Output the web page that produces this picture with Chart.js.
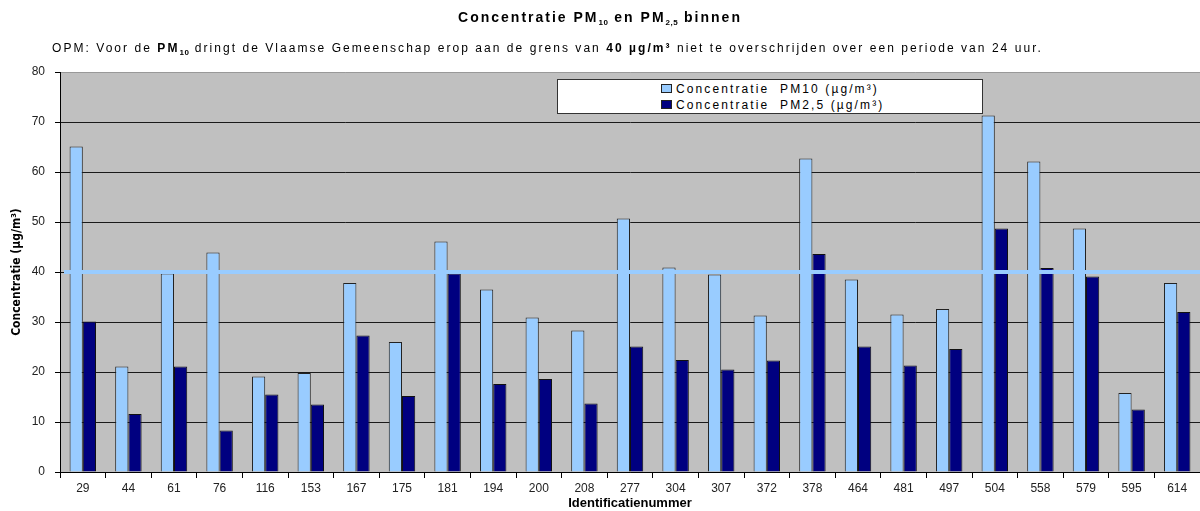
<!DOCTYPE html>
<html>
<head>
<meta charset="utf-8">
<script src="https://cdn.jsdelivr.net/npm/chart.js@4.4.0/dist/chart.umd.min.js"></script>
<style>
  body { margin: 0; background: #fff; }
  #wrap { position: relative; width: 1200px; height: 511px; font-family: "Liberation Sans", Arial, sans-serif; }
  #chart { position: absolute; left: 0; top: 0; }
  #title { position: absolute; top: 9px; left: 0; width: 1200px; text-align: center; font-weight: bold; font-size: 14px; letter-spacing: 2px; color: #000; }
  #subtitle { position: absolute; top: 41px; left: 52px; white-space: nowrap; font-size: 12px; letter-spacing: 2.05px; color: #000; }
  sub { font-size: 8px; vertical-align: -3px; line-height: 0; letter-spacing: 0.5px; }
  #legend { position: absolute; left: 557px; top: 79px; width: 424px; height: 33px; background: #fff; border: 1px solid #333; font-size: 12px; letter-spacing: 2.1px; }
  .item { position: absolute; left: 103px; white-space: pre; }
  .box { display: inline-block; width: 9px; height: 7px; border: 1px solid #222; margin-right: 4px; vertical-align: 0px; }
</style>
</head>
<body>
<div id="wrap">
  <canvas id="chart" width="1200" height="511"></canvas>
  <div id="title">Concentratie PM<sub>10</sub> en PM<sub>2,5</sub> binnen</div>
  <div id="subtitle">OPM: Voor de <b>PM<sub>10</sub></b> dringt de Vlaamse Gemeenschap erop aan de grens van <b>40 µg/m³</b> niet te overschrijden over een periode van 24 uur.</div>
  <div id="legend"></div>
</div>
<script>
// Identification numbers (x axis)
var categories = ["29", "44", "61", "76", "116", "153", "167", "175", "181", "194", "200", "208", "277",
  "304", "307", "372", "378", "464", "481", "497", "504", "558", "579", "595", "614"];

// Measured values (µg/m³)
var pm10Values = [65.1, 21.1, 39.7, 43.9, 19.1, 19.8, 37.8, 26.0, 46.1, 36.5, 30.9, 28.3, 50.7,
  40.9, 39.5, 31.3, 62.7, 38.5, 31.5, 32.6, 71.3, 62.1, 48.7, 15.8, 37.8];
var pm25Values = [30.1, 11.6, 21.1, 8.3, 15.5, 13.5, 27.3, 15.2, 39.7, 17.6, 18.6, 13.7, 25.1,
  22.4, 20.5, 22.3, 43.6, 25.1, 21.3, 24.6, 48.7, 40.8, 39.1, 12.5, 32.0];

var seriesLabels = ["Concentratie  PM10 (µg/m³)", "Concentratie  PM2,5 (µg/m³)"];
var seriesColors = ["#99CCFF", "#000080"];

// Limit of the Flemish Community
var limitValue = 40;

// Gray plot background
var plotBackground = {
  id: "plotBackground",
  beforeDraw: function (chart) {
    var a = chart.chartArea;
    var ctx = chart.ctx;
    ctx.save();
    ctx.fillStyle = "#C0C0C0";
    ctx.fillRect(a.left, a.top, a.right - a.left, a.bottom - a.top);
    ctx.restore();
  },
};

// Thick light blue line at the limit, drawn over the bars
var limitLine = {
  id: "limitLine",
  afterDatasetsDraw: function (chart) {
    var a = chart.chartArea;
    var y = chart.scales.y.getPixelForValue(limitValue);
    var ctx = chart.ctx;
    ctx.save();
    ctx.strokeStyle = "#99CCFF";
    ctx.lineWidth = 4;
    ctx.beginPath();
    ctx.moveTo(a.left + 4, y);
    ctx.lineTo(a.right, y);
    ctx.stroke();
    ctx.restore();
  },
};

var ctx = document.getElementById("chart").getContext("2d");
var myChart = new Chart(ctx, {
  type: "bar",
  data: {
    labels: categories,
    datasets: [
      {
        label: seriesLabels[0],
        data: pm10Values,
        backgroundColor: seriesColors[0],
        borderColor: "#222",
        borderWidth: 1,
        categoryPercentage: 0.58,
        barPercentage: 1,
      },
      {
        label: seriesLabels[1],
        data: pm25Values,
        backgroundColor: seriesColors[1],
        borderColor: "#111",
        borderWidth: 1,
        categoryPercentage: 0.58,
        barPercentage: 1,
      },
    ],
  },
  options: {
    responsive: false,
    animation: false,
    layout: { padding: { top: 72, left: 0, right: 0, bottom: 0 } },
    plugins: {
      legend: { display: false },
      tooltip: { enabled: false },
    },
    scales: {
      x: {
        grid: { drawOnChartArea: false, color: "#000", tickLength: 6 },
        border: { color: "#000", width: 1 },
        ticks: {
          color: "#222",
          font: { family: "Liberation Sans", size: 12 },
          maxRotation: 0,
          autoSkip: false,
          padding: 3,
        },
        title: {
          display: true,
          text: "Identificatienummer",
          color: "#000",
          font: { family: "Liberation Sans", size: 13, weight: "bold" },
          padding: { top: 0, bottom: 0 },
        },
        afterFit: function (scale) {
          scale.height = 39;
        },
      },
      y: {
        min: 0,
        max: 80,
        ticks: {
          stepSize: 10,
          color: "#222",
          font: { family: "Liberation Sans", size: 12 },
          padding: 10,
        },
        grid: {
          color: function (c) {
            return c.tick && c.tick.value === 80 ? "#999" : "#1a1a1a";
          },
          tickColor: "#000",
          tickLength: 5,
        },
        border: { color: "#000", width: 1 },
        title: {
          display: true,
          text: "Concentratie (µg/m³)",
          color: "#000",
          font: { family: "'DejaVu Sans Condensed', 'Liberation Sans', sans-serif", size: 12, weight: "bold" },
          padding: { top: 10, bottom: 0 },
        },
        afterFit: function (scale) {
          scale.width = 60;
        },
      },
    },
  },
  plugins: [plotBackground, limitLine],
});

// HTML legend built from the datasets
var legend = document.getElementById("legend");
myChart.data.datasets.forEach(function (ds, i) {
  var item = document.createElement("div");
  item.className = "item";
  item.style.top = (2 + i * 16) + "px";
  var box = document.createElement("span");
  box.className = "box";
  box.style.background = ds.backgroundColor;
  item.appendChild(box);
  item.appendChild(document.createTextNode(ds.label));
  legend.appendChild(item);
});
</script>
</body>
</html>
